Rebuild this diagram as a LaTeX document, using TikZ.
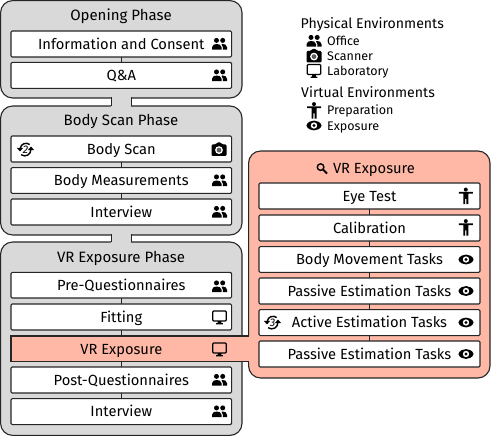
\documentclass[tikz,border=0pt]{standalone}
\usepackage{fontspec}
\setmainfont{Fira Sans}
\definecolor{pgrey}{HTML}{D9D9D9}
\definecolor{porange}{HTML}{FFB8A5}
\definecolor{ink}{HTML}{262626}
\tikzset{
  x=1pt,y=-1pt,
  phasebox/.style={draw=ink,line width=1.1pt,rounded corners=12pt,fill=pgrey},
  stepbox/.style={draw=ink,line width=1.1pt,rounded corners=1.2pt,fill=white},
  label/.style={inner sep=0pt,text=black,font=\fontsize{14.7}{16}\selectfont,anchor=base},
  title/.style={inner sep=0pt,text=black,font=\fontsize{15}{16}\selectfont,anchor=base},
  legendhead/.style={inner sep=0pt,text=black,font=\fontsize{14.1}{16}\selectfont,anchor=base west},
  legenditem/.style={inner sep=0pt,text=black,font=\fontsize{12.5}{14}\selectfont,anchor=base west},
  link/.style={draw=ink,line width=1.1pt},
  people/.pic={
    \fill[black] (-3,-3.6) circle (2.5) (3.2,-3.6) circle (2.5);
    \fill[black] (-7.5,5.6) -- (-7.5,3.2) .. controls (-7.5,0.6) and (-4.5,0) .. (-2.8,0) .. controls (-1,0) and (2,0.6) .. (2,3.2) -- (2,5.6) -- cycle;
    \fill[black] (3,0) .. controls (5,0) and (7.5,0.6) .. (7.5,3.2) -- (7.5,5.6) -- (3.4,5.6) -- (3.4,3.2) .. controls (3.4,1.8) and (2.8,0.8) .. (2,0.2) -- cycle;
  },
  camera/.pic={
    \fill[black,rounded corners=1.2pt] (-7.5,-5) -- (-3.4,-5) -- (-2,-7) -- (2,-7) -- (3.4,-5) -- (7.5,-5) -- (7.5,6.5) -- (-7.5,6.5) -- cycle;
    \fill[white] (0,0.6) circle (3.9);
    \fill[ink!75] (0,0.6) circle (2.4);
  },
  monitor/.pic={
    \draw[black,line width=1.3pt,rounded corners=1pt] (-6.8,-6) rectangle (6.8,4);
    \fill[black] (-1.8,4) -- (1.8,4) -- (1.8,6.2) -- (3.4,6.2) -- (3.4,7.3) -- (-3.4,7.3) -- (-3.4,6.2) -- (-1.8,6.2) -- cycle;
  },
  figure/.pic={
    \fill[black] (0,-6.4) circle (2);
    \fill[black] (-7,-4.2) -- (7,-4.2) -- (7,-2.4) -- (2.5,-2.4) -- (2.5,8.2) -- (0.6,8.2) -- (0.6,3) -- (-0.6,3) -- (-0.6,8.2) -- (-2.5,8.2) -- (-2.5,-2.4) -- (-7,-2.4) -- cycle;
  },
  seeing/.pic={
    \fill[black] (-7.6,0) .. controls (-5.5,-6.6) and (5.5,-6.6) .. (7.6,0) .. controls (5.5,6.6) and (-5.5,6.6) .. (-7.6,0) -- cycle;
    \fill[white] (0,0) circle (3.2);
    \fill[black] (0,0) circle (1.7);
  },
  lens/.pic={
    \draw[black,line width=1.4pt] (-1.4,-1.4) circle (3.3);
    \draw[black,line width=1.8pt] (1,1) -- (5,5);
  },
  repeated/.pic={
    \draw[black,line width=1.4pt] (4.2,-5) .. controls (1,-7.4) and (-4.6,-6.2) .. (-5.3,-1);
    \fill[black] (-8.6,-1.6) -- (-2.4,-1.6) -- (-5.5,2) -- cycle;
    \draw[black,line width=1.4pt] (5.4,0) .. controls (5.6,5.4) and (-0.4,8) .. (-4.4,5.2);
    \fill[black] (8.6,0.6) -- (2.4,0.6) -- (5.5,-3) -- cycle;
    \node[inner sep=0pt,font=\fontsize{11}{12}\itshape\selectfont] at (0,0) {\tikzpictext};
  },
}
\newcommand{\stepnode}[6]{% name, x0, x1, y0, y1, text
  \draw[stepbox] (#2,#4) rectangle (#3,#5);
  \path (#2,#4) -- (#3,#5) coordinate[midway] (#1);
  \node[label] (#1t) at ([yshift=-5.1pt]#1) {#6};
}
\begin{document}
\begin{tikzpicture}
\useasboundingbox (0,0) rectangle (491,436);
% phase panels
\draw[phasebox] (0.6,0.6) rectangle (242,98);
\draw[phasebox] (0.6,106) rectangle (242,235);
\draw[phasebox] (0.6,242) rectangle (242,435.4);
% necks
\fill[pgrey] (111.4,96) rectangle (131.2,108);
\fill[pgrey] (111.4,233) rectangle (131.2,244);
\draw[link] (111.4,97.5) -- (111.4,106.5) (131.2,97.5) -- (131.2,106.5);
\draw[link] (111.4,234.5) -- (111.4,242.5) (131.2,234.5) -- (131.2,242.5);
% zoom panel with its strip
\draw[phasebox,fill=porange] (248.6,151) rectangle (490,378);
\fill[porange] (11,336) rectangle (250,361.6);
\draw[link] (248.6,336) -- (11,336) -- (11,361.6) -- (248.6,361.6);
% titles
\node[title] (t1) at (121,21) {Opening Phase};
\node[title] (t2) at (121,126) {Body Scan Phase};
\node[title] (t3) at (121,262.5) {VR Exposure Phase};
\node[label] (t4) at (374,173.5) {VR Exposure};
\pic at (322,168.5) {lens};
% left steps
\stepnode{a}{11}{231.6}{31}{57}{Information and Consent}
\stepnode{b}{11}{231.6}{62.4}{88.4}{Q\&A}
\stepnode{c}{11}{231.6}{136}{162}{Body Scan}
\stepnode{d}{11}{231.6}{167.6}{193.4}{Body Measurements}
\stepnode{e}{11}{231.6}{199}{225}{Interview}
\stepnode{f}{11}{231.6}{272.4}{298}{Pre-Questionnaires}
\stepnode{g}{11}{231.6}{304}{330}{Fitting}
\coordinate (h) at (121.3,349);
\node[label] (ht) at ([yshift=-5.1pt]h) {VR Exposure};
\stepnode{i}{11}{231.6}{367}{393}{Post-Questionnaires}
\stepnode{j}{11}{231.6}{398.6}{424.6}{Interview}
% right steps
\stepnode{k}{259}{480}{183}{209}{Eye Test}
\stepnode{l}{259}{480}{215}{241}{Calibration}
\stepnode{m}{259}{480}{246.6}{272.4}{Body Movement Tasks}
\stepnode{n}{259}{480}{278}{304}{Passive Estimation Tasks}
\stepnode{o}{259}{480}{309.6}{335.6}{Active Estimation Tasks}
\stepnode{q}{259}{480}{341}{367}{Passive Estimation Tasks}
% links
\draw[link] (a|-0,57) -- (a|-0,62.4);
\draw[link] (c|-0,162) -- (c|-0,167.6);
\draw[link] (d|-0,193.4) -- (d|-0,199);
\draw[link] (f|-0,298) -- (f|-0,304);
\draw[link] (g|-0,330) -- (g|-0,336);
\draw[link] (h|-0,361.6) -- (h|-0,367);
\draw[link] (i|-0,393) -- (i|-0,398.6);
\draw[link] (k|-0,209) -- (k|-0,215);
\draw[link] (l|-0,241) -- (l|-0,246.6);
\draw[link] (m|-0,272.4) -- (m|-0,278);
\draw[link] (n|-0,304) -- (n|-0,309.6);
\draw[link] (o|-0,335.6) -- (o|-0,341);
% icons
\pic at (219.5,44) {people};
\pic at (219.5,75.5) {people};
\pic at (219,149.5) {camera};
\pic at (219.5,180.5) {people};
\pic at (219.5,212) {people};
\pic at (219.5,286.5) {people};
\pic at (219.5,317) {monitor};
\pic at (219.5,349) {monitor};
\pic at (219.5,380) {people};
\pic at (219.5,411.5) {people};
\pic[pic text=2] at (25.5,149.5) {repeated};
\pic[pic text=3] at (272.5,322.5) {repeated};
\pic at (465.8,196) {figure};
\pic at (465.8,227.5) {figure};
\pic at (466,259.5) {seeing};
\pic at (466,291) {seeing};
\pic at (466,322.5) {seeing};
\pic at (466,354) {seeing};
% legend
\node[legendhead] (lg1) at (300.5,29) {Physical Environments};
\pic at (314,41) {people};
\node[legenditem] (lg2) at (327,46) {Office};
\pic at (314,56) {camera};
\node[legenditem] (lg3) at (327,61) {Scanner};
\pic at (314,70.5) {monitor};
\node[legenditem] (lg4) at (327,76) {Laboratory};
\node[legendhead] (lg5) at (301,98) {Virtual Environments};
\pic at (314,110.5) {figure};
\node[legenditem] (lg6) at (327,115) {Preparation};
\pic at (314,125.5) {seeing};
\node[legenditem] (lg7) at (327,130.5) {Exposure};
\end{tikzpicture}
\end{document}
